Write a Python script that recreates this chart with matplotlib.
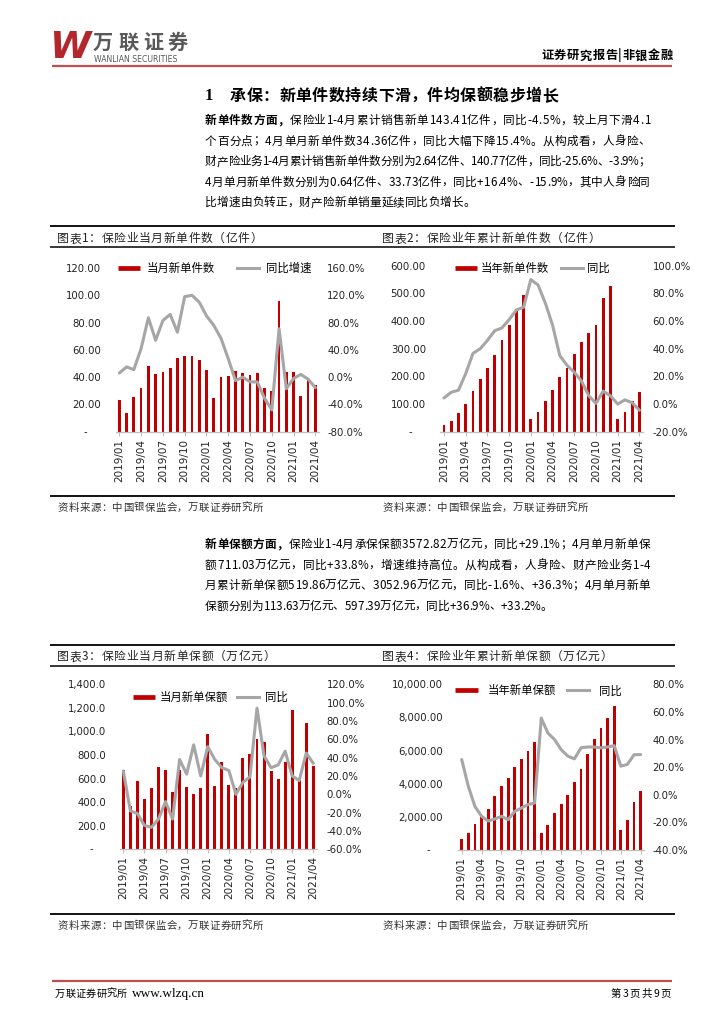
import matplotlib
matplotlib.use('Agg')
import numpy as np
import matplotlib.pyplot as plt
from matplotlib.lines import Line2D
from matplotlib.font_manager import FontProperties
from matplotlib.ticker import FuncFormatter

W, H, DPI = 724, 1024, 100
CJK = ['Noto Sans CJK SC', 'DejaVu Sans']
plt.rcParams['font.family'] = CJK
plt.rcParams['axes.unicode_minus'] = False

# ---------------- data ----------------
months = ['2019/01', '2019/02', '2019/03', '2019/04', '2019/05', '2019/06', '2019/07',
          '2019/08', '2019/09', '2019/10', '2019/11', '2019/12', '2020/01', '2020/02',
          '2020/03', '2020/04', '2020/05', '2020/06', '2020/07', '2020/08', '2020/09',
          '2020/10', '2020/11', '2020/12', '2021/01', '2021/02', '2021/03', '2021/04']
label_idx = [0, 3, 6, 9, 12, 15, 18, 21, 24, 27]

# 图表1 当月新单件数(亿件) / 同比增速(%)
monthly_count = [23.2, 13.9, 25.6, 32.2, 48.3, 42.2, 43.8, 46.4, 53.7, 55.4, 55.6, 52.5,
                 45.0, 24.9, 39.8, 40.7, 44.6, 43.3, 41.5, 43.2, 32.4, 29.8, 95.6, 43.9,
                 43.9, 26.3, 37.8, 34.36]
monthly_count_yoy = [6, 15, 11, 42, 87, 54, 83, 92, 66, 118, 120, 110,
                     90, 76, 57, 27, -5, 0, -7, -7, -31, -48, 71, -17,
                     -2, 4, -3, -15.4]

# 图表2 当年新单件数(亿件) / 同比(%)
cum_count = [24, 39, 66, 99, 146, 189, 229, 277, 331, 386, 442, 494,
             45, 71, 112, 152, 199, 231, 281, 325, 355, 386, 482, 525,
             45, 73, 110, 143.41]
cum_count_yoy = [4.4, 8.5, 10, 22, 36.6, 40, 46, 53, 55, 61, 68, 70,
                 90, 86, 73, 57, 35, 28, 23, 16.6, 6, 0.5, 9.3, 6,
                 0, 3, 1, -4.5]

# 图表3 当月新单保额(万亿元) / 同比(%)
monthly_amt = [670, 371, 580, 429, 516, 699, 670, 487, 670, 530, 472, 516,
               975, 539, 741, 545, 520, 777, 806, 938, 910, 665, 600, 741,
               1186, 600, 1073, 711.03]
monthly_amt_yoy = [25.4, -18, -21, -34, -36, -27, -8, -27, 38, 22, 54, 20,
                   52, 38, 29, 26, 0, 13, 19, 94, 42, 29, 32, 47,
                   20, 15, 45, 33.8]

# 图表4 当年新单保额(万亿元) / 同比(%)
cum_amt = [650, 1010, 1576, 1990, 2480, 3230, 3880, 4340, 5020, 5520, 6000, 6500,
           1000, 1515, 2260, 2790, 3330, 4100, 4900, 5800, 6700, 7360, 7960, 8700,
           1210, 1820, 2890, 3572.82]
cum_amt_yoy = [25.5, 6, -8.5, -15.6, -19, -17.5, -15.6, -18, -12, -9.6, -7, -6,
               55.5, 44.7, 40, 32.7, 28, 26, 34, 34.6, 34.6, 34, 34.6, 35.6,
               20.7, 22, 29, 29.1]

RED = '#C00000'
GRAY = '#A6A6A6'
HEAD_RED = '#C0504D'

fig = plt.figure(figsize=(W / DPI, H / DPI), dpi=DPI)
renderer = fig.canvas.get_renderer()


def fx(x):
    return x / W


def fy(y):
    return 1 - y / H


_adv = {}


def advance(ch, fp, sentinel):
    fam = fp.get_family()
    key = (ch, tuple(fam) if isinstance(fam, list) else fam, fp.get_size(), fp.get_weight(),
           sentinel)
    if key not in _adv:
        w2 = renderer.get_text_width_height_descent(sentinel * 2, fp, ismath=False)[0]
        w3 = renderer.get_text_width_height_descent(sentinel + ch + sentinel, fp, ismath=False)[0]
        _adv[key] = w3 - w2
    return _adv[key]


def spread(s, x0, x1, yc, size, color='black', bold_n=0, weight='normal', family=None,
           sentinel='中'):
    fam = family or CJK
    fpn = FontProperties(family=fam, size=size, weight=weight)
    fpb = FontProperties(family=fam, size=size, weight='bold')
    fps = [fpb if i < bold_n else fpn for i in range(len(s))]
    advs = [advance(c, fp, sentinel) for c, fp in zip(s, fps)]
    gap = 0 if x1 is None else (x1 - x0 - sum(advs)) / max(len(s) - 1, 1)
    base = yc + 0.36 * size * DPI / 72
    x = x0
    for c, fp, a in zip(s, fps, advs):
        fig.text(fx(x), fy(base), c, fontproperties=fp, ha='left', va='baseline', color=color)
        x += a + gap


def hline(x0, x1, y, color='black', lw=1.2):
    fig.add_artist(Line2D([fx(x0), fx(x1)], [fy(y), fy(y)], transform=fig.transFigure,
                          color=color, lw=lw, solid_capstyle='butt'))


# ---------------- header ----------------
fig.text(fx(50), fy(48), 'W', family='DejaVu Sans', weight='bold', style='italic',
         size=27, color='#B3262C', ha='left', va='center')
spread('万联证券', 93, 188, 42, 14.5, color='#595959', weight='bold')
fig.text(fx(94), fy(60), 'WANLIAN SECURITIES', family='DejaVu Sans', size=5.6,
         color='#595959', ha='left', va='center')
spread('证券研究报告|非银金融', 541, 673, 55, 8.8, weight='bold')
hline(52, 672, 66, HEAD_RED, 1.6)

# ---------------- section title & paragraphs ----------------
fig.text(fx(205), fy(95 + 4.5), '1', family='Liberation Serif', weight='bold', size=12,
         ha='left', va='baseline')
spread('承保：新单件数持续下滑，件均保额稳步增长', 230, 558, 95, 11.5, weight='bold')

para1 = ['新单件数方面，保险业1-4月累计销售新单143.41亿件，同比-4.5%，较上月下滑4.1',
         '个百分点；4月单月新单件数34.36亿件，同比大幅下降15.4%。从构成看，人身险、',
         '财产险业务1-4月累计销售新单件数分别为2.64亿件、140.77亿件，同比-25.6%、-3.9%；',
         '4月单月新单件数分别为0.64亿件、33.73亿件，同比+16.4%、-15.9%，其中人身险同',
         '比增速由负转正，财产险新单销量延续同比负增长。']
para1_end = [650, 650, 650, 650, 475]
para1_y = [120, 140.5, 161, 181.5, 202]
for i, (s, e, y) in enumerate(zip(para1, para1_end, para1_y)):
    spread(s, 205, e, y, 8.4, bold_n=7 if i == 0 else 0)

para2 = ['新单保额方面，保险业1-4月承保保额3572.82万亿元，同比+29.1%；4月单月新单保',
         '额711.03万亿元，同比+33.8%，增速维持高位。从构成看，人身险、财产险业务1-4',
         '月累计新单保额519.86万亿元、3052.96万亿元，同比-1.6%、+36.3%；4月单月新单',
         '保额分别为113.63万亿元、597.39万亿元，同比+36.9%、+33.2%。']
para2_end = [650, 650, 650, 552]
para2_y = [544, 564.5, 585, 605.5]
for i, (s, e, y) in enumerate(zip(para2, para2_end, para2_y)):
    spread(s, 205, e, y, 8.4, bold_n=7 if i == 0 else 0)

# ---------------- chart frames ----------------
for top, under, bottom in [(226, 247, 496), (645, 666, 914)]:
    hline(50, 675, top, 'black', 1.3)
    hline(50, 675, under, 'black', 1.1)
    hline(50, 675, bottom, 'black', 1.3)

spread('图表1：保险业当月新单件数（亿件）', 57, 262, 238, 8.5, color='#222222')
spread('图表2：保险业年累计新单件数（亿件）', 382, 600, 238, 8.5, color='#222222')
spread('图表3：保险业当月新单保额（万亿元）', 57, 275, 656, 8.5, color='#222222')
spread('图表4：保险业年累计新单保额（万亿元）', 382, 612, 656, 8.5, color='#222222')
for x0, x1, y in [(58, 263, 507), (383, 588, 507), (58, 263, 925), (383, 588, 925)]:
    spread('资料来源：中国银保监会，万联证券研究所', x0, x1, y, 7.5, color='#333333')


def chart(box, bars, line, lmax, lstep, lfmt, rlim, rstep, bar_w, dash_dx, lpad, rpad,
          leg_xy, labels, hl, htp, csp):
    left, right, top, bottom = box
    ax = fig.add_axes([fx(left), fy(bottom), (right - left) / W, (bottom - top) / H])
    x = np.arange(len(months))
    ax.bar(x, bars, width=bar_w, color=RED, zorder=2)
    ax.set_xlim(-0.5, len(months) - 0.5)
    ax.set_ylim(0, lmax)
    ax.set_yticks(np.arange(0, lmax + lstep * 0.01, lstep))
    ax.yaxis.set_major_formatter(FuncFormatter(lambda v, p: '' if abs(v) < 1e-9 else lfmt(v)))
    ax.set_xticks(label_idx)
    ax.set_xticklabels([months[i] for i in label_idx], rotation=90)
    for s in ['top', 'left', 'right']:
        ax.spines[s].set_visible(False)
    ax.spines['bottom'].set_color('#BFBFBF')
    ax.spines['bottom'].set_linewidth(0.9)
    ax.tick_params(axis='x', length=3, color='#BFBFBF', pad=2, labelsize=7.5,
                   labelfontfamily='DejaVu Sans', labelcolor='#222222')
    ax.tick_params(axis='y', length=0, pad=lpad, labelsize=7.3,
                   labelfontfamily='DejaVu Sans', labelcolor='#222222')
    ax.patch.set_visible(False)
    ax.annotate('-', xy=(0, 0), xycoords=('axes fraction', 'data'), xytext=(dash_dx, 0),
                textcoords='offset pixels', ha='center', va='center', fontsize=7.3,
                family='DejaVu Sans', color='#222222')

    ax2 = ax.twinx()
    ax2.plot(x, line, color=GRAY, lw=2.2, solid_joinstyle='round', solid_capstyle='round',
             zorder=3)
    ax2.set_ylim(*rlim)
    ax2.set_yticks(np.arange(rlim[0], rlim[1] + rstep * 0.01, rstep))
    ax2.yaxis.set_major_formatter(FuncFormatter(lambda v, p: f'{v:.1f}%'))
    for s in ['top', 'left', 'right', 'bottom']:
        ax2.spines[s].set_visible(False)
    ax2.tick_params(axis='y', length=0, pad=rpad, labelsize=7.3,
                    labelfontfamily='DejaVu Sans', labelcolor='#222222')

    handles = [Line2D([], [], color=RED, lw=3.4, solid_capstyle='butt'),
               Line2D([], [], color=GRAY, lw=2.2)]
    ax2.legend(handles, labels, loc='center left', bbox_to_anchor=(fx(leg_xy[0]), fy(leg_xy[1])),
               bbox_transform=fig.transFigure, ncol=2, frameon=False, borderpad=0,
               borderaxespad=0, handlelength=hl, handletextpad=htp, columnspacing=csp,
               prop=FontProperties(family=CJK, size=8.2))
    return ax, ax2


chart((115.7, 319, 268, 431.7), monthly_count, monthly_count_yoy, 120, 20,
      lambda v: f'{v:.2f}', (-80, 160), 40, 0.38, -30.7, 10.5, 6,
      (118, 268), ['当月新单件数', '同比增速'], 1.93, 0.6, 1.9)

chart((440.4, 643, 265.7, 431.7), cum_count, cum_count_yoy, 600, 100,
      lambda v: f'{v:.2f}', (-20, 100), 20, 0.38, -29.7, 10.5, 7,
      (455, 268.3), ['当年新单件数', '同比'], 1.93, 0.35, 1.05)

chart((119.8, 316.8, 684.3, 849.3), monthly_amt, monthly_amt_yoy, 1400, 200,
      lambda v: f'{v:,.1f}', (-60, 120), 20, 0.42, -28, 10, 7,
      (133, 697.3), ['当月新单保额', '同比'], 1.93, 0.45, 0.8)

chart((458.4, 644, 684.3, 850), cum_amt, cum_amt_yoy, 10000, 2000,
      lambda v: f'{v:,.2f}', (-40, 80), 20, 0.42, -30, 11, 6.3,
      (455, 690.7), ['当年新单保额', '同比'], 2.0, 0.85, 0.95)

# ---------------- footer ----------------
hline(52, 672, 981, HEAD_RED, 1.6)
spread('万联证券研究所', 55, 127, 993, 7.3)
fig.text(fx(132), fy(997), 'www.wlzq.cn', family='Liberation Serif', size=9.5,
         ha='left', va='baseline')
spread('第3页共9页', 611, 671, 993, 7.5)

fig.savefig('out.png', dpi=DPI, facecolor='white')
